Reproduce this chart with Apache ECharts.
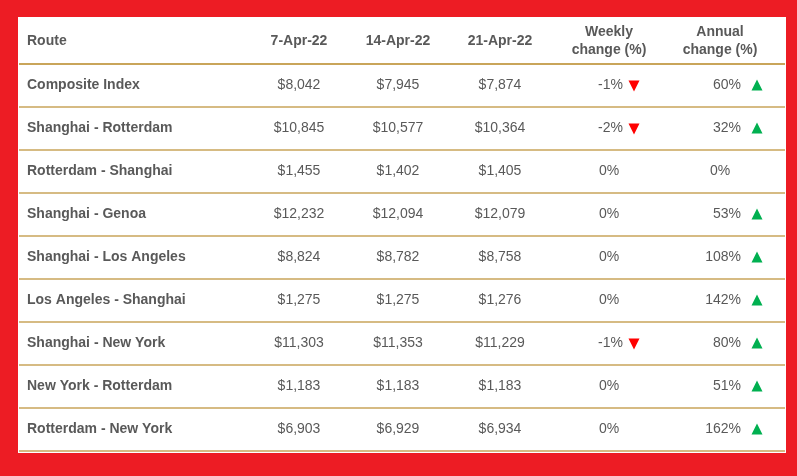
<!DOCTYPE html>
<html><head><meta charset="utf-8">
<script src="https://cdn.jsdelivr.net/npm/echarts@6/dist/echarts.min.js"></script>
<style>html,body{margin:0;padding:0;background:#ed1c24}#c{width:797px;height:476px}</style>
</head><body><div id="c"></div>
<script>
const headers = ['Route','7-Apr-22','14-Apr-22','21-Apr-22','Weekly\nchange (%)','Annual\nchange (%)'];
const routes = ['Composite Index','Shanghai - Rotterdam','Rotterdam - Shanghai','Shanghai - Genoa','Shanghai - Los Angeles','Los Angeles - Shanghai','Shanghai - New York','New York - Rotterdam','Rotterdam - New York'];
const apr7 = [8042,10845,1455,12232,8824,1275,11303,1183,6903];
const apr14 = [7945,10577,1402,12094,8782,1275,11353,1183,6929];
const apr21 = [7874,10364,1405,12079,8758,1276,11229,1183,6934];
const weekly = [-1,-2,0,0,0,0,-1,0,0];
const annual = [60,32,0,53,108,142,80,51,162];

const fmt = v => '$' + v.toLocaleString('en-US');
const GRAY = '#595959', GOLD = '#c9a55a', FONT = '"Liberation Sans", Arial, sans-serif';
const top0 = 64, rowH = 43;
const chart = echarts.init(document.getElementById('c'));
const data = routes.map((r,i)=>[i]);
function tri(x,y,up,color){
  const pts = up ? [[x-5.5,y+5],[x+5.5,y+5],[x,y-6]] : [[x-5.5,y-5],[x+5.5,y-5],[x,y+6]];
  return {type:'polygon',shape:{points:pts},style:{fill:color}};
}
chart.setOption({
  animation:false,
  grid:{left:0,right:0,top:0,bottom:0},
  xAxis:{type:'value',min:0,max:797,show:false},
  yAxis:{type:'value',min:0,max:476,inverse:true,show:false},
  graphic:[
    {type:'rect',shape:{x:18,y:17,width:768,height:436},style:{fill:'#fff'},z:-10},
    ...headers.map((h,j)=>{
      const xs=[27,299,398,500,609,720];
      return {type:'text',x:xs[j],y:41,style:{text:h,fill:GRAY,font:'bold 14px '+FONT,align:j===0?'left':'center',verticalAlign:'middle',lineHeight:18}};
    }),
    {type:'line',shape:{x1:19,y1:top0,x2:785,y2:top0},style:{stroke:GOLD,lineWidth:2}}
  ],
  series:[{
    type:'custom',
    data:data,
    renderItem:(params,api)=>{
      const i = api.value(0);
      const yc = api.coord([0, top0 + rowH*(i+0.5)])[1];
      const yl = api.coord([0, top0 + rowH*(i+1)])[1];
      const t = (x,s,al,bold)=>({type:'text',x:x,y:yc,style:{text:s,fill:GRAY,font:(bold?'bold ':'')+'14px '+FONT,align:al,verticalAlign:'middle'}});
      const ch = [
        {type:'line',shape:{x1:19,y1:yl,x2:785,y2:yl},style:{stroke:GOLD,lineWidth:1.5}},
        t(27,routes[i],'left',true),
        t(299,fmt(apr7[i]),'center'),
        t(398,fmt(apr14[i]),'center'),
        t(500,fmt(apr21[i]),'center'),
        t(weekly[i]?623:609,weekly[i]+'%',weekly[i]?'right':'center'),
        t(annual[i]?741:720,annual[i]+'%',annual[i]?'right':'center')
      ];
      if(weekly[i]) ch.push(tri(634,yc,weekly[i]>0,weekly[i]>0?'#00b050':'#ff0000'));
      if(annual[i]) ch.push(tri(757,yc,annual[i]>0,annual[i]>0?'#00b050':'#ff0000'));
      return {type:'group',children:ch};
    }
  }]
});
</script></body></html>
